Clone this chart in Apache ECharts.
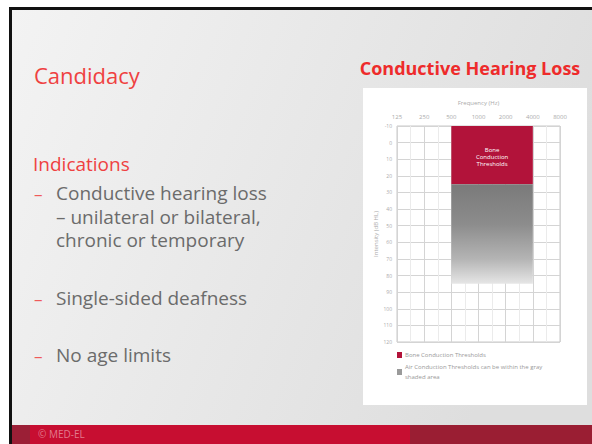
<!DOCTYPE html>
<html><head><meta charset="utf-8">
<script src="https://cdn.jsdelivr.net/npm/echarts@6/dist/echarts.min.js"></script>
<style>html,body{margin:0;padding:0;background:#fff}#c{width:592px;height:444px}</style>
</head><body><div id="c"></div>
<script>
// ---- data ----
const freqLabels = ['125', '250', '500', '1000', '2000', '4000', '8000'];
const dbMin = -10, dbMax = 120, dbStep = 10;
const regionNames = ['Bone Conduction Thresholds', 'Air Conduction Thresholds can be within the gray shaded area'];
const regionFreqStart = [500, 500];
const regionFreqEnd = [4000, 4000];
const regionDbTop = [-10, 25];
const regionDbBottom = [25, 85];
const bullets = ['Conductive hearing loss\n– unilateral or bilateral,\nchronic or temporary', 'Single-sided deafness', 'No age limits'];

const octave = f => Math.log2(f / 125);
const FONT = '"Open Sans", "Noto Sans", sans-serif';
const chart = echarts.init(document.getElementById('c'), null, {renderer: 'svg'});

function regionSeries(i, style) {
  return {
    type: 'custom', name: regionNames[i],
    itemStyle: {color: style.legendColor},
    data: [[octave(regionFreqStart[i]), regionDbTop[i], octave(regionFreqEnd[i]), regionDbBottom[i]]],
    renderItem: (params, api) => {
      const p1 = api.coord([api.value(0), api.value(1)]);
      const p2 = api.coord([api.value(2), api.value(3)]);
      const el = {
        type: 'rect',
        shape: {x: p1[0], y: p1[1], width: p2[0] - p1[0], height: p2[1] - p1[1]},
        style: {fill: style.fill}
      };
      if (style.label) {
        el.textContent = {style: {text: style.label, fill: '#fff', fontSize: 6, fontFamily: FONT, align: 'center', lineHeight: 7}};
        el.textConfig = {position: 'inside', offset: [0, 2]};
      }
      return el;
    }
  };
}

const graphics = [
  {type: 'rect', shape: {x: 0, y: 0, width: 592, height: 444}, style: {fill: '#fff'}, z: -10, silent: true},
  {type: 'rect', shape: {x: 9, y: 7, width: 583, height: 437}, style: {fill: '#111'}, z: -9},
  {type: 'rect', shape: {x: 12, y: 10, width: 580, height: 415},
    style: {fill: new echarts.graphic.LinearGradient(0, 0, 1, 0.3, [{offset: 0, color: '#f3f3f3'}, {offset: 1, color: '#dedede'}])}, z: -8},
  {type: 'rect', shape: {x: 12, y: 425, width: 18, height: 19}, style: {fill: '#9b1f36'}, z: -7},
  {type: 'rect', shape: {x: 30, y: 425, width: 380, height: 19}, style: {fill: '#c70e31'}, z: -7},
  {type: 'rect', shape: {x: 410, y: 425, width: 182, height: 19}, style: {fill: '#9a1e33'}, z: -7},
  {type: 'text', x: 38, y: 434, style: {text: '© MED-EL', fill: '#e27a8c', fontSize: 10, fontFamily: FONT, verticalAlign: 'middle'}},
  {type: 'rect', shape: {x: 363, y: 88, width: 224, height: 317}, style: {fill: '#fff'}, z: -6},
  {type: 'text', x: 34, y: 75, style: {text: 'Candidacy', fill: '#ef4141', fontSize: 22, fontFamily: FONT, verticalAlign: 'middle'}},
  {type: 'text', x: 470, y: 68, style: {text: 'Conductive Hearing Loss', fill: '#ee2b2b', fontSize: 18, fontWeight: 'bold', fontFamily: FONT, align: 'center', verticalAlign: 'middle'}},
  {type: 'text', x: 33, y: 164, style: {text: 'Indications', fill: '#ef4141', fontSize: 19, fontFamily: FONT, verticalAlign: 'middle'}}
];
const bulletY = [216.5, 298, 355];
const dashY = [193, 298, 355];
bullets.forEach((t, i) => {
  graphics.push({type: 'text', x: 56, y: bulletY[i], style: {text: t, fill: '#6b6b6b', fontSize: 19, lineHeight: 23.5, fontFamily: FONT, verticalAlign: 'middle'}});
  graphics.push({type: 'text', x: 34, y: dashY[i], style: {text: '–', fill: '#ef5a5a', fontSize: 17, fontFamily: FONT, verticalAlign: 'middle'}});
});

chart.setOption({
  animation: false,
  graphic: graphics,
  grid: {left: 397, top: 126, width: 163, height: 216, show: true, borderColor: '#c8c8c8', borderWidth: 1},
  xAxis: {
    type: 'value', position: 'top', min: 0, max: freqLabels.length - 1, interval: 1,
    name: 'Frequency (Hz)', nameLocation: 'middle', nameGap: 20,
    nameTextStyle: {color: '#aaa', fontSize: 6, fontFamily: FONT},
    axisLine: {show: false}, axisTick: {show: false},
    axisLabel: {color: '#aaa', fontSize: 6, fontFamily: FONT, margin: 6, formatter: v => freqLabels[Math.round(v)]},
    splitLine: {show: true, lineStyle: {color: '#d4d4d4', width: 1}},
    minorTick: {show: false, splitNumber: 2},
    minorSplitLine: {show: true, lineStyle: {color: '#ebebeb', width: 1}}
  },
  yAxis: {
    type: 'value', inverse: true, min: dbMin, max: dbMax, interval: dbStep,
    name: 'Intensity (dB HL)', nameLocation: 'middle', nameGap: 18, nameRotate: 90,
    nameTextStyle: {color: '#aaa', fontSize: 6, fontFamily: FONT},
    axisLine: {show: false}, axisTick: {show: false},
    axisLabel: {color: '#aaa', fontSize: 5, fontFamily: FONT, margin: 5},
    splitLine: {show: true, lineStyle: {color: '#d4d4d4', width: 1}}
  },
  legend: {
    orient: 'vertical', left: 397, top: 350, padding: 0, itemWidth: 5, itemHeight: 6, itemGap: 2,
    icon: 'rect', selectedMode: false,
    textStyle: {color: '#999', fontSize: 6, fontFamily: FONT, lineHeight: 10, padding: [0, 0, 0, -2]},
    formatter: n => n === regionNames[1] ? 'Air Conduction Thresholds can be within the gray\nshaded area' : n,
    data: regionNames
  },
  series: [
    regionSeries(0, {fill: '#b2133a', legendColor: '#b2133a', label: 'Bone\nConduction\nThresholds'}),
    regionSeries(1, {legendColor: '#9a9a9a', fill: new echarts.graphic.LinearGradient(0, 0, 0, 1, [
      {offset: 0, color: '#7a7a7a'}, {offset: 0.4, color: '#8c8c8c'}, {offset: 0.75, color: '#b4b4b4'}, {offset: 1, color: '#e6e6e6'}])})
  ]
});
</script></body></html>
